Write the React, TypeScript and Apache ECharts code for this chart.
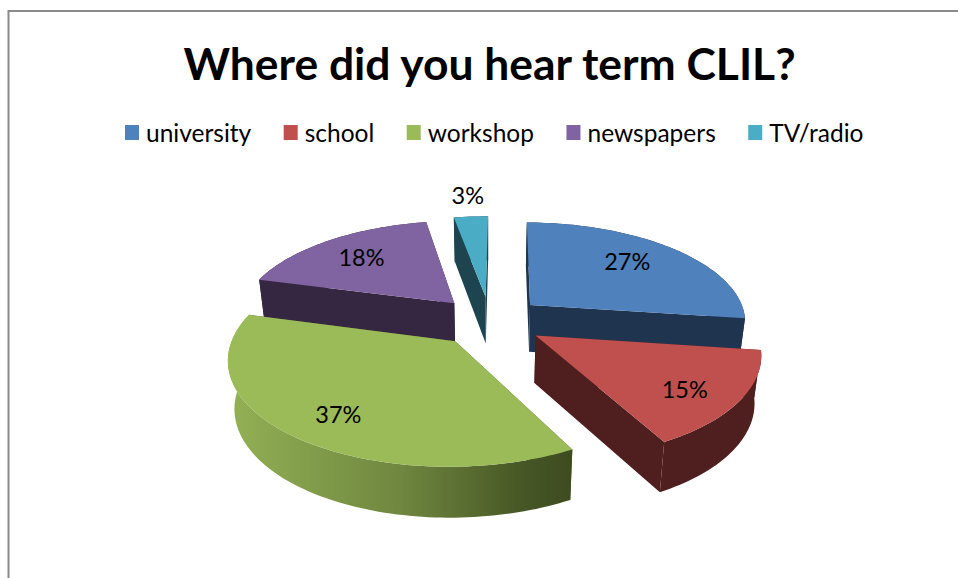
import React, { useEffect, useRef } from "react";
import * as echarts from "echarts";

const chartTitle = "Where did you hear term CLIL?";
const categories = ["university", "school", "workshop", "newspapers", "TV/radio"];
const shares = [27, 15, 37, 18, 3];
const topColors = ["#4f81bd", "#c0504d", "#9bbb59", "#8064a2", "#4bacc6"];
const wallColors = ["#1f344e", "#4e1f1e", "#4e5f2c", "#352742", "#1e4450"];
const paintOrder = [3, 5, 4, 2, 1];
const labelReach = [0.715, 0.77, 0.77, 0.72, 1.32];
const labelTurn = [-4, 3, -2, 0, 0.2];

const FONT = "Lato, Carlito, Calibri, sans-serif";

// Projection of the tilted, exploded disc onto the page.
const CX = 490;
const CY = 321;
const RX = 217;
const RY = 99.7;
const PERSPECTIVE = 0.152;
const EXPLODE = 0.25;
const DEPTH = 47;
const FIRST_ANGLE = (0.6 * Math.PI) / 180;

const total = shares.reduce((a, b) => a + b, 0);

function sliceAngles(index: number) {
  const before = shares.slice(0, index).reduce((a, b) => a + b, 0);
  const start = FIRST_ANGLE + (before / total) * Math.PI * 2;
  const end = FIRST_ANGLE + ((before + shares[index]) / total) * Math.PI * 2;
  return { start, end, mid: (start + end) / 2 };
}

function project(mid: number, angle: number, radius: number, z: number): number[] {
  const x = EXPLODE * Math.sin(mid) + radius * Math.sin(angle);
  const y = -EXPLODE * Math.cos(mid) - radius * Math.cos(angle);
  const s = 1 / (1 - PERSPECTIVE * y);
  return [
    CX + RX * x * s * (1 - 0.025 * z),
    CY + RY * y * s + DEPTH * z * Math.pow(s, 0.4),
  ];
}

function renderSlice(index: number) {
  return (_params: unknown, api: any) => {
    const value = api.value(0);
    const { start, end, mid } = sliceAngles(index);
    const steps = Math.max(4, Math.ceil((end - start) / 0.025));
    const rimTop: number[][] = [];
    const rimBottom: number[][] = [];
    for (let i = 0; i <= steps; i++) {
      const a = start + ((end - start) * i) / steps;
      rimTop.push(project(mid, a, 1, 0));
      rimBottom.push(project(mid, a, 1, 1));
    }
    const apexTop = project(mid, 0, 0, 0);
    const apexBottom = project(mid, 0, 0, 1);
    const wallFill =
      categories[index] === "workshop"
        ? {
            type: "linear",
            x: 0,
            y: 0,
            x2: 1,
            y2: 0,
            colorStops: [
              { offset: 0, color: "#93b155" },
              { offset: 0.5, color: "#6f873f" },
              { offset: 0.86, color: "#465625" },
              { offset: 1, color: "#3e4b20" },
            ],
          }
        : wallColors[index];
    const wall = (points: number[][], fill: unknown) => ({
      type: "polygon",
      shape: { points },
      style: { fill, stroke: null },
    });
    const at = project(mid, mid + (labelTurn[index] * Math.PI) / 180, labelReach[index], 0);
    return {
      type: "group",
      children: [
        wall([apexTop, rimTop[0], rimBottom[0], apexBottom], wallColors[index]),
        wall([apexTop, rimTop[steps], rimBottom[steps], apexBottom], wallColors[index]),
        wall([...rimTop, ...rimBottom.slice().reverse()], wallFill),
        wall([apexTop, ...rimTop], topColors[index]),
        {
          type: "text",
          style: {
            text: `${Math.round((value / total) * 100)}%`,
            x: at[0],
            y: at[1],
            align: "center",
            verticalAlign: "middle",
            fill: "#000000",
            font: `23.5px ${FONT}`,
          },
        },
      ],
    };
  };
}

export default function App() {
  const ref = useRef<HTMLDivElement>(null);

  useEffect(() => {
    if (!ref.current) return;
    const chart = echarts.init(ref.current, undefined, { renderer: "svg" });
    chart.setOption({
      animation: false,
      backgroundColor: "#ffffff",
      color: topColors,
      title: {
        text: chartTitle,
        left: 484.5,
        top: 35,
        textAlign: "center",
        textStyle: { fontFamily: FONT, fontSize: 44.4, fontWeight: "bold", color: "#000000" },
      },
      legend: {
        data: categories,
        left: 125,
        top: 120,
        padding: 0,
        icon: "rect",
        itemWidth: 14,
        itemHeight: 15,
        itemGap: 32.5,
        textStyle: { fontFamily: FONT, fontSize: 24.5, color: "#000000", padding: [0, 0, 0, 2] },
        selectedMode: false,
      },
      graphic: [
        {
          type: "polyline",
          silent: true,
          shape: { points: [[8.5, 578], [8.5, 11], [958, 11]] },
          style: { fill: "none", stroke: "#8a8a8a", lineWidth: 2 },
        },
      ],
      series: categories.map((name, i) => ({
        type: "custom",
        name,
        coordinateSystem: "none",
        z: paintOrder[i] + 1,
        itemStyle: { color: topColors[i] },
        renderItem: renderSlice(i),
        data: [shares[i]],
      })),
    });
    return () => chart.dispose();
  }, []);

  return (
    <div
      ref={ref}
      style={{ position: "fixed", left: 0, top: 0, width: 958, height: 578 }}
    />
  );
}
